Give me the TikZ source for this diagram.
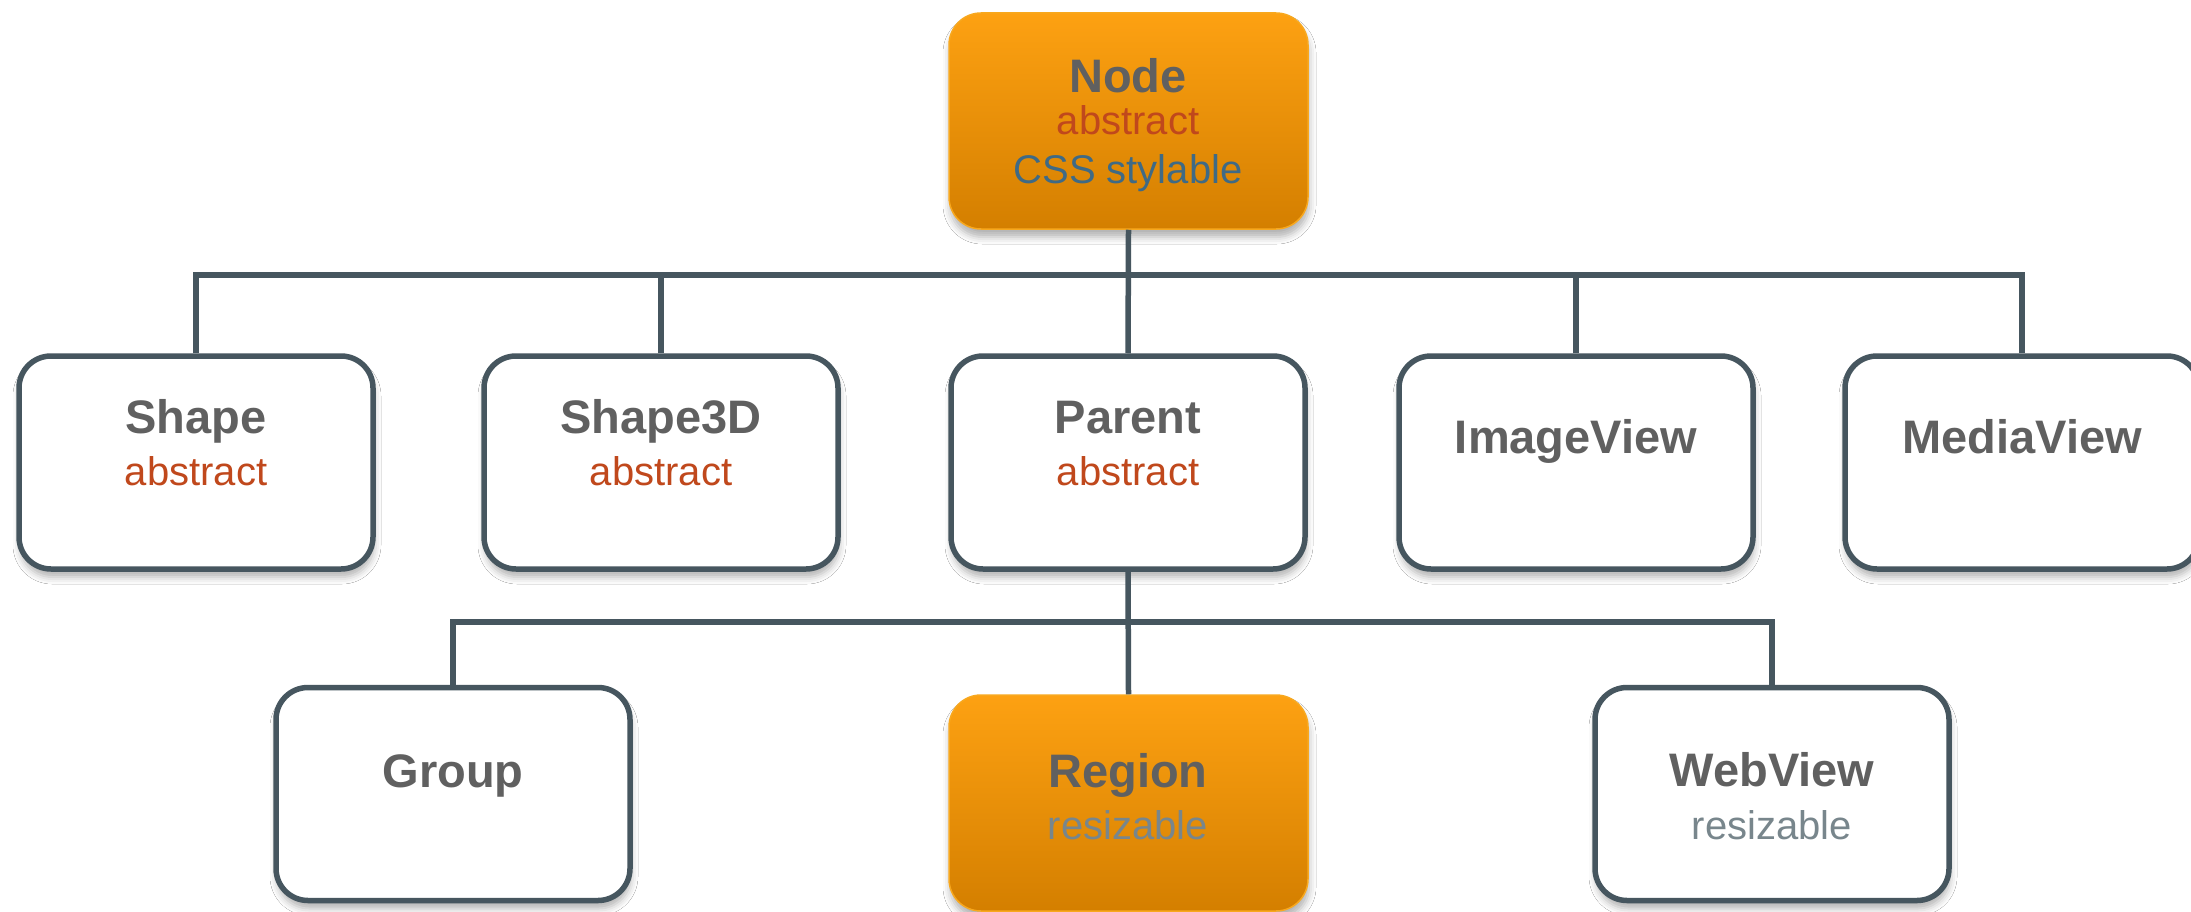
\documentclass[tikz,border=0pt]{standalone}
\usepackage{fontspec}
\setmainfont{Liberation Sans}
\usetikzlibrary{shadows.blur}

\definecolor{wire}{RGB}{70,86,95}
\definecolor{titlegray}{RGB}{96,96,96}
\definecolor{abstractred}{RGB}{192,72,28}
\definecolor{cssblue}{RGB}{63,106,133}
\definecolor{resizegray}{RGB}{120,134,140}
\definecolor{orangetop}{RGB}{253,161,18}
\definecolor{orangebot}{RGB}{212,127,0}
\definecolor{orangeedge}{RGB}{248,168,30}

\begin{document}
\begin{tikzpicture}[x=1pt,y=-1pt,
  softshadow/.style={blur shadow={shadow xshift=1pt, shadow yshift=-8pt,
      shadow blur radius=7pt, shadow opacity=30}},
  classbox/.style={draw=wire, line width=5.5pt, rounded corners=32pt, fill=white,
      minimum width=354pt, minimum height=213pt, inner sep=0pt, softshadow},
  hotbox/.style={draw=orangeedge, line width=1.5pt, rounded corners=32pt,
      top color=orangetop, bottom color=orangebot,
      minimum width=359pt, minimum height=216pt, inner sep=0pt, softshadow},
  wirestyle/.style={draw=wire, line width=5.5pt},
  title/.style={anchor=base, inner sep=0pt, text=titlegray,
      font=\fontsize{47}{50}\selectfont\bfseries},
  sub/.style={anchor=base, inner sep=0pt, font=\fontsize{40}{44}\selectfont}]

\useasboundingbox (0,0) rectangle (2191,912);
\fill[white] (0,0) rectangle (2191,912);

% bus junctions
\coordinate (bustop) at (1128,275);
\coordinate (busmid) at (1128,622);

% class boxes (drawn first so the connectors sit on top of their shadows)
\node[hotbox]   (nodebox)     at (1128.5,121) {};
\node[classbox] (shape)       at (196,462.5) {};
\node[classbox] (shapethreed) at (661,462.5) {};
\node[classbox] (parent)      at (1128,462.5) {};
\node[classbox] (imageview)   at (1576,462.5) {};
\node[classbox] (mediaview)   at (2022,462.5) {};
\node[classbox] (group)       at (453,794) {};
\node[hotbox]   (region)      at (1128.5,803) {};
\node[classbox] (webview)     at (1772,794) {};

% connectors
\draw[wirestyle] (nodebox.south) -- (parent.north);
\draw[wirestyle] (shape.north) |- (bustop);
\draw[wirestyle] (shapethreed.north) |- (bustop);
\draw[wirestyle] (imageview.north) |- (bustop);
\draw[wirestyle] (mediaview.north) |- (bustop);
\draw[wirestyle] (parent.south) -- (region.north);
\draw[wirestyle] (group.north) |- (busmid);
\draw[wirestyle] (webview.north) |- (busmid);

% labels
\node[title] (nodet) at (1128,93) {Node};
\node[sub, text=abstractred] (nodea) at (1128,135) {abstract};
\node[sub, text=cssblue] (nodec) at (1128,183) {CSS stylable};

\node[title] (shapet) at (196,433) {Shape};
\node[sub, text=abstractred] (shapea) at (196,485) {abstract};
\node[title] (shapethreedt) at (661,433) {Shape3D};
\node[sub, text=abstractred] (shapethreeda) at (661,485) {abstract};
\node[title] (parentt) at (1128,433) {Parent};
\node[sub, text=abstractred] (parenta) at (1128,485) {abstract};
\node[title] (imageviewt) at (1576,453) {ImageView};
\node[title] (mediaviewt) at (2022,453) {MediaView};

\node[title] (groupt) at (453,787) {Group};
\node[title] (regiont) at (1128,787) {Region};
\node[sub, text=resizegray] (regionr) at (1128,839) {resizable};
\node[title] (webviewt) at (1772,786) {WebView};
\node[sub, text=resizegray] (webviewr) at (1772,839) {resizable};
\end{tikzpicture}
\end{document}
